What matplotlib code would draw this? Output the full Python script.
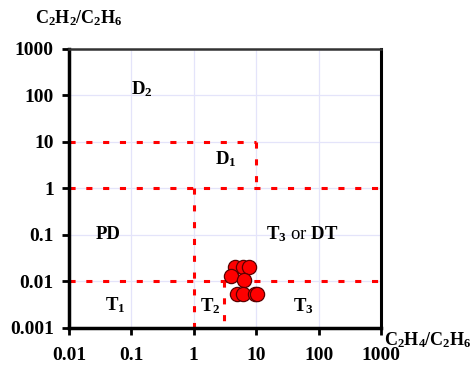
import numpy as np
import matplotlib
matplotlib.use("Agg")
import matplotlib.pyplot as plt

plt.rcParams['font.family'] = ['Liberation Serif', 'DejaVu Serif']
plt.rcParams['font.weight'] = 'bold'
plt.rcParams['mathtext.fontset'] = 'custom'
plt.rcParams['mathtext.rm'] = 'Liberation Serif'
plt.rcParams['mathtext.bf'] = 'Liberation Serif:bold'
plt.rcParams['mathtext.default'] = 'regular'

# measured gas ratios
c2h4_c2h6 = [4.6, 6.2, 7.7, 3.9, 6.4, 5.0, 6.2, 9.5, 10.4]
c2h2_c2h6 = [0.020, 0.021, 0.020, 0.013, 0.0108, 0.0053, 0.0053, 0.0053, 0.0053]

# zone boundaries: (x0, x1, y0, y1)
bounds = [
    (0.01, 10, 10, 10),
    (10, 10, 10, 1),
    (0.01, 1000, 1, 1),
    (1, 1, 1, 0.001),
    (0.01, 1000, 0.01, 0.01),
    (3, 3, 0.01, 0.001),
]

# zone labels: (x, y, text)
zones = [
    (0.145, 140, "D$_2$"),
    (3.3, 4.3, "D$_1$"),
    (0.042, 0.105, "PD"),
    (0.056, 0.0031, "T$_1$"),
    (1.85, 0.0029, "T$_2$"),
    (57, 0.0029, "T$_3$"),
]

ticks = [0.01, 0.1, 1, 10, 100, 1000]
yticks = [0.001, 0.01, 0.1, 1, 10, 100, 1000]

fig = plt.figure(figsize=(4.74, 3.72), dpi=100)
ax = fig.add_axes([0.1456, 0.1183, 0.6582, 0.7500])
ax.set_xscale('log')
ax.set_yscale('log')
ax.set_xlim(0.01, 1000)
ax.set_ylim(0.001, 1000)

ax.grid(True, which='major', color='#e4e4fa', lw=0.9)
ax.set_axisbelow(True)

for x0, x1, y0, y1 in bounds:
    ax.plot([x0, x1], [y0, y1], color='red', lw=2.2, ls=(0, (2, 3.5)), zorder=2)

ax.scatter(c2h4_c2h6, c2h2_c2h6, s=105, color='red', edgecolor='#5a0000',
           linewidth=0.9, zorder=3)

for x, y, t in zones:
    ax.text(x, y, t, fontsize=13.5, fontweight='bold', ha='center', va='center')
ax.text(54, 0.105, r"$\mathbf{T_3}$ or $\mathbf{DT}$", fontsize=13.5,
        fontweight='normal', ha='center', va='center')

ax.set_xticks(ticks)
ax.set_xticklabels(["0.01", "0.1", "1", "10", "100", "1000"])
ax.set_yticks(yticks)
ax.set_yticklabels(["0.001", "0.01", "0.1", "1", "10", "100", "1000"])
ax.minorticks_off()
ax.tick_params(direction='out', length=5, width=2, labelsize=14, pad=6)
ax.tick_params(axis='x', pad=9)

ax.spines['left'].set_linewidth(2.5)
ax.spines['bottom'].set_linewidth(2.5)
ax.spines['right'].set_linewidth(2.2)
ax.spines['top'].set_linewidth(1.8)
ax.spines['top'].set_color('#333333')

fig.text(0.074, 0.952, "C$_2$H$_2$/C$_2$H$_6$", fontsize=13, fontweight='bold',
         ha='left', va='center')
fig.text(0.811, 0.085, "C$_2$H$_4$/C$_2$H$_6$", fontsize=13, fontweight='bold',
         ha='left', va='center')

fig.savefig("out.png", dpi=100)
